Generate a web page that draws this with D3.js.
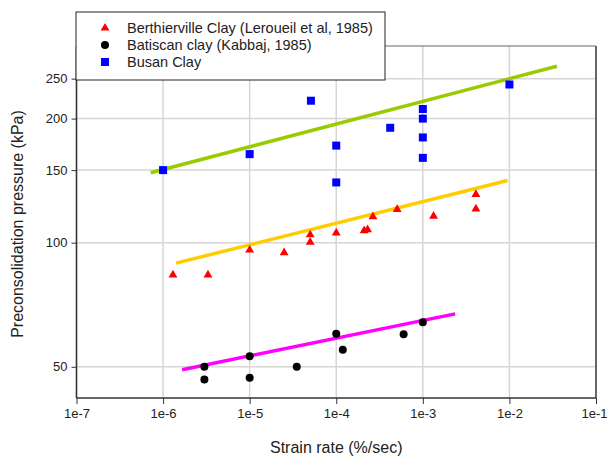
<!DOCTYPE html>
<html>
<head>
<meta charset="utf-8">
<script src="https://cdn.jsdelivr.net/npm/d3@7"></script>
<style>
  body { margin: 0; background: #fff; }
  text { font-family: "Liberation Sans", Arial, sans-serif; }
</style>
</head>
<body>
<svg id="chart" width="608" height="456"></svg>
<script>
// data: [strain rate, pressure]
const berthierville = [
  [1.3e-6, 83.5], [3.3e-6, 83.5], [1e-5, 96], [2.5e-5, 94.6], [5e-5, 104.5],
  [5e-5, 100.3], [1e-4, 105.6], [2.1e-4, 107], [2.3e-4, 107.5], [2.65e-4, 115.7],
  [5.05e-4, 120.4], [1.33e-3, 116], [4.1e-3, 131], [4.1e-3, 120.8]
]
const batiscan = [
  [3e-6, 50], [3e-6, 46.6], [1e-5, 53], [1e-5, 47], [3.5e-5, 50],
  [1e-4, 60.1], [1.19e-4, 55], [6e-4, 60], [1e-3, 64.1]
]
const busan = [
  [1e-6, 150], [1e-5, 164], [5.1e-5, 221], [1e-4, 172], [1e-4, 140], [4.2e-4, 190],
  [1e-3, 211], [1e-3, 200], [1e-3, 180], [1e-3, 160.6], [1e-2, 242]
]
// trend lines (end points)
const busanFit = [[7.2e-7, 147.8], [3.54e-2, 268]]
const berthFit = [[1.41e-6, 89.2], [9.5e-3, 141.5]]
const batisFit = [[1.66e-6, 49.2], [2.36e-3, 67.2]]

const xTicks = [1e-7, 1e-6, 1e-5, 1e-4, 1e-3, 1e-2, 1e-1]
const yTicks = [50, 100, 150, 200, 250]
const legendNames = ['Berthierville Clay (Leroueil et al, 1985)', 'Batiscan clay (Kabbaj, 1985)', 'Busan Clay']

let svg = d3.select('#chart')

let pLeft = 76.5, pRight = 596, pTop = 46, pBottom = 398

let x = d3.scaleLog().domain([1e-7, 1e-1]).range([pLeft, pRight])
let y = d3.scaleLog().domain([42, 300]).range([pBottom, pTop])

// grid
svg.append('g')
   .selectAll('line')
   .data(xTicks)
   .enter()
   .append('line')
   .attr('x1', d => x(d)).attr('x2', d => x(d))
   .attr('y1', pTop).attr('y2', pBottom)
   .attr('stroke', '#d6d6d6')
   .attr('stroke-width', 1.5)

svg.append('g')
   .selectAll('line')
   .data(yTicks)
   .enter()
   .append('line')
   .attr('x1', pLeft).attr('x2', pRight)
   .attr('y1', d => y(d)).attr('y2', d => y(d))
   .attr('stroke', '#d6d6d6')
   .attr('stroke-width', 1.5)

// frame top / right
svg.append('line')
   .attr('x1', pLeft).attr('x2', pRight).attr('y1', pTop).attr('y2', pTop)
   .attr('stroke', '#666').attr('stroke-width', 1)
svg.append('line')
   .attr('x1', pRight).attr('x2', pRight).attr('y1', pTop).attr('y2', pBottom)
   .attr('stroke', '#666').attr('stroke-width', 2)

// axes
let xAxis = d3.axisBottom(x).tickValues(xTicks).tickSize(6).tickPadding(5)
  .tickFormat(d => '1e' + Math.round(Math.log10(d)))
let yAxis = d3.axisLeft(y).tickValues(yTicks).tickSize(5).tickPadding(4)
  .tickFormat(d3.format('d'))

let gx = svg.append('g').attr('transform', `translate(0,${pBottom})`).call(xAxis)
let gy = svg.append('g').attr('transform', `translate(${pLeft},0)`).call(yAxis)
;[gx, gy].forEach(g => {
  g.select('.domain').attr('stroke', '#333').attr('stroke-width', 1.5)
  g.selectAll('.tick line').attr('stroke', '#333')
  g.selectAll('.tick text').attr('fill', '#222')
    .style('font-size', '13px')
    .style('font-family', '"Liberation Sans", Arial, sans-serif')
})
gx.select('.domain').attr('d', `M${pLeft},0H${pRight}`)
gy.select('.domain').attr('d', `M0,${pTop}V${pBottom}`)
// keep last label inside the picture
gx.selectAll('.tick text').filter(d => d === 1e-1)
  .attr('text-anchor', 'end').attr('x', 11)

// trend lines
let line = d3.line().x(d => x(d[0])).y(d => y(d[1]))
svg.append('path').datum(busanFit).attr('d', line)
   .attr('stroke', '#99cc00').attr('stroke-width', 3.5).attr('fill', 'none')
svg.append('path').datum(berthFit).attr('d', line)
   .attr('stroke', '#ffcc00').attr('stroke-width', 3.5).attr('fill', 'none')
svg.append('path').datum(batisFit).attr('d', line)
   .attr('stroke', '#ff00ff').attr('stroke-width', 3.5).attr('fill', 'none')

// markers
let tri = d3.symbol().type(d3.symbolTriangle).size(34)
let circ = d3.symbol().type(d3.symbolCircle).size(50)

svg.append('g').selectAll('path')
   .data(berthierville).enter().append('path')
   .attr('d', tri)
   .attr('transform', d => `translate(${x(d[0])},${y(d[1])})`)
   .attr('fill', '#ff0000')

svg.append('g').selectAll('path')
   .data(batiscan).enter().append('path')
   .attr('d', circ)
   .attr('transform', d => `translate(${x(d[0])},${y(d[1])})`)
   .attr('fill', '#000')

svg.append('g').selectAll('rect')
   .data(busan).enter().append('rect')
   .attr('x', d => x(d[0]) - 4).attr('y', d => y(d[1]) - 4)
   .attr('width', 8).attr('height', 8)
   .attr('fill', '#0000ff')

// axis titles
svg.append('text')
   .attr('x', (pLeft + pRight) / 2).attr('y', 453)
   .attr('text-anchor', 'middle')
   .style('font-size', '16px').attr('fill', '#222')
   .text('Strain rate (%/sec)')
svg.append('text')
   .attr('transform', `translate(23,${(pTop + pBottom) / 2 + 2}) rotate(-90)`)
   .attr('text-anchor', 'middle')
   .style('font-size', '16px').attr('fill', '#222')
   .text('Preconsolidation pressure (kPa)')

// legend
let lg = svg.append('g')
lg.append('rect')
  .attr('x', 76).attr('y', 12).attr('width', 309).attr('height', 68)
  .attr('fill', '#fff').attr('stroke', '#222').attr('stroke-width', 1)

let rowY = [28, 45, 62]
lg.append('path').attr('d', tri).attr('transform', `translate(105,${rowY[0]})`).attr('fill', '#ff0000')
lg.append('path').attr('d', circ).attr('transform', `translate(105,${rowY[1]})`).attr('fill', '#000')
lg.append('rect').attr('x', 101).attr('y', rowY[2] - 4).attr('width', 8).attr('height', 8).attr('fill', '#0000ff')

lg.selectAll('text')
  .data(legendNames).enter().append('text')
  .attr('x', 127).attr('y', (d, i) => rowY[i] + 5)
  .style('font-size', '14.5px').attr('fill', '#222')
  .text(d => d)
</script>
</body>
</html>
